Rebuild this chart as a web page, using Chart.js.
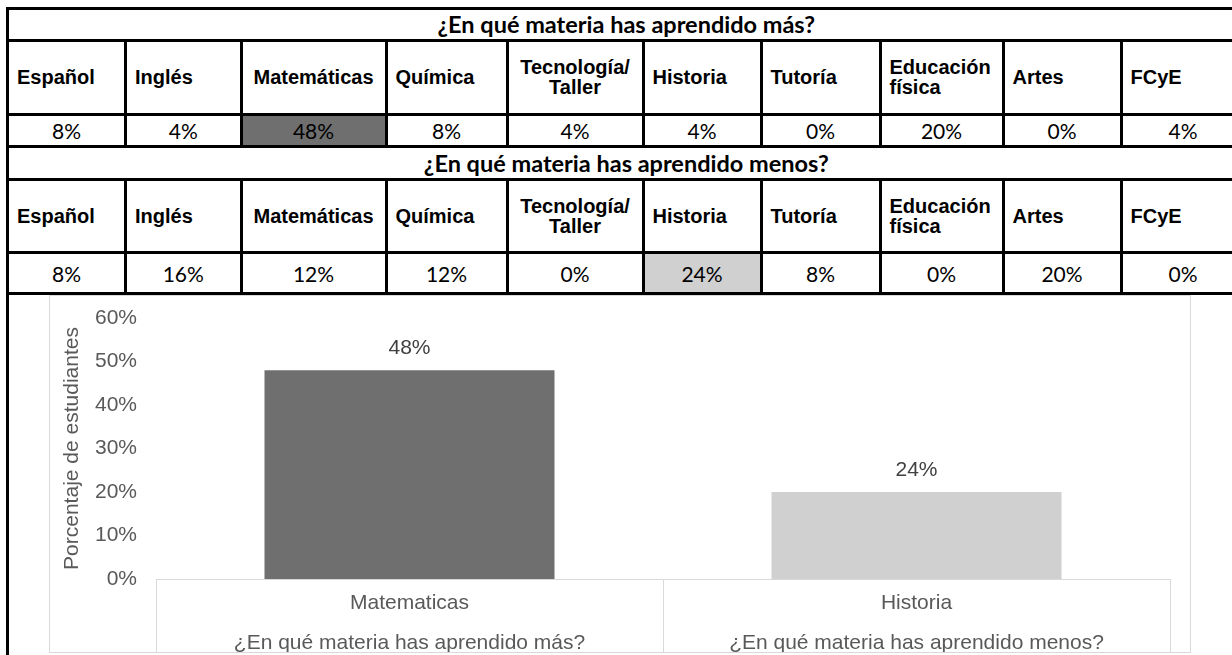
<!DOCTYPE html>
<html lang="es">
<head>
<meta charset="UTF-8">
<title>Materias</title>
<script src="https://cdn.jsdelivr.net/npm/chart.js@4.4.1/dist/chart.umd.min.js"></script>
<style>
    html, body { margin: 0; padding: 0; overflow: hidden; background: #fff; }
    body { width: 1232px; height: 655px; position: relative; }
    #tabla { position: absolute; left: 6px; top: 7px; border-collapse: collapse; table-layout: fixed; }
    #tabla td { border: 3px solid #000; padding: 0; overflow: hidden; color: #000; }
    .titulo { font-family: Lato, sans-serif; font-weight: bold; font-size: 23.5px; text-align: center; }
    .materia { font-family: "Liberation Sans", Arial, sans-serif; font-weight: bold; font-size: 20px; line-height: 20px; text-align: left; padding-left: 8px !important; }
    .centro { text-align: center; padding-left: 0 !important; }
    .valor { font-family: Lato, sans-serif; font-size: 21px; text-align: center; }
    #chartBox { position: absolute; left: 49px; top: 295px; width: 1140px; height: 356px; border: 1px solid #d9d9d9; overflow: hidden; background: #fff; }
    #canvasWrap { position: absolute; left: 0; top: 0; width: 1140px; height: 367px; }
</style>
</head>
<body>
<table id="tabla"><colgroup id="cols"></colgroup><tbody id="cuerpo"></tbody></table>
<div id="chartBox"><div id="canvasWrap"><canvas id="grafica"></canvas></div></div>

<script>
// Datos de la tabla
const materias = ["Español", "Inglés", "Matemáticas", "Química", "Tecnología/<br>Taller", "Historia", "Tutoría", "Educación<br>física", "Artes", "FCyE"];
const aprendidoMas = [8, 4, 48, 8, 4, 4, 0, 20, 0, 4];
const aprendidoMenos = [8, 16, 12, 12, 0, 24, 8, 0, 20, 0];
const preguntaMas = "¿En qué materia has aprendido más?";
const preguntaMenos = "¿En qué materia has aprendido menos?";

// Datos de la grafica
const categorias = [["Matematicas", preguntaMas], ["Historia", preguntaMenos]];
const porcentajes = [48, 20];
const etiquetas = ["48%", "24%"];
const colores = ["#6f6f6f", "#d0d0d0"];

// Medidas de la tabla
const anchos = [118, 115.5, 145, 121, 136, 118, 119, 123, 118, 124];
const centradas = [2, 4];

document.addEventListener("DOMContentLoaded", () => {
    const tabla = document.getElementById("tabla");
    const cols = document.getElementById("cols");
    const cuerpo = document.getElementById("cuerpo");

    tabla.style.width = anchos.reduce((s, w) => s + w, 0) + "px";
    anchos.forEach(w => {
        const col = document.createElement("col");
        col.style.width = w + "px";
        cols.appendChild(col);
    });

    // Bloque de la tabla: titulo, materias y porcentajes
    function agregarBloque(pregunta, valores, resalte, alturas) {
        const maxIdx = valores.indexOf(Math.max(...valores));

        const filaTitulo = document.createElement("tr");
        filaTitulo.style.height = alturas[0] + "px";
        filaTitulo.innerHTML = `<td class="titulo" colspan="10">${pregunta}</td>`;
        cuerpo.appendChild(filaTitulo);

        const filaMaterias = document.createElement("tr");
        filaMaterias.style.height = alturas[1] + "px";
        materias.forEach((m, i) => {
            const td = document.createElement("td");
            td.className = "materia" + (centradas.includes(i) ? " centro" : "");
            td.innerHTML = m;
            filaMaterias.appendChild(td);
        });
        cuerpo.appendChild(filaMaterias);

        const filaValores = document.createElement("tr");
        filaValores.style.height = alturas[2] + "px";
        valores.forEach((v, i) => {
            const td = document.createElement("td");
            td.className = "valor";
            td.textContent = v + "%";
            if (i === maxIdx) td.style.background = resalte;
            filaValores.appendChild(td);
        });
        cuerpo.appendChild(filaValores);
    }

    agregarBloque(preguntaMas, aprendidoMas, colores[0], [31.5, 74.5, 32]);
    agregarBloque(preguntaMenos, aprendidoMenos, colores[1], [32.5, 73.5, 41]);

    const filaGrafica = document.createElement("tr");
    filaGrafica.style.height = "400px";
    filaGrafica.innerHTML = `<td colspan="10"></td>`;
    cuerpo.appendChild(filaGrafica);

    // Etiquetas sobre las barras
    const etiquetasPlugin = {
        id: "etiquetasBarras",
        afterDatasetsDraw(chart) {
            const ctx = chart.ctx;
            const meta = chart.getDatasetMeta(0);
            ctx.save();
            ctx.font = '21px "Liberation Sans", Arial, sans-serif';
            ctx.fillStyle = "#404040";
            ctx.textAlign = "center";
            ctx.textBaseline = "middle";
            meta.data.forEach((bar, i) => {
                ctx.fillText(etiquetas[i], bar.x, bar.y - 22);
            });
            ctx.restore();
        }
    };

    // Chart.js grafica de barras
    new Chart(document.getElementById("grafica").getContext("2d"), {
        type: "bar",
        data: {
            labels: categorias,
            datasets: [{
                label: "Porcentaje",
                data: porcentajes,
                backgroundColor: colores,
                barPercentage: 0.572,
                categoryPercentage: 1
            }]
        },
        options: {
            responsive: true,
            maintainAspectRatio: false,
            animation: false,
            layout: { padding: { left: 10, top: 22, right: 20, bottom: 0 } },
            plugins: {
                legend: { display: false },
                tooltip: { enabled: false }
            },
            scales: {
                x: {
                    afterFit: scale => { scale.height = 84; },
                    grid: {
                        offset: true,
                        drawOnChartArea: false,
                        drawTicks: true,
                        tickLength: 74,
                        color: "#d9d9d9"
                    },
                    border: { color: "#d9d9d9" },
                    ticks: {
                        padding: -70,
                        color: "#595959",
                        maxRotation: 0,
                        autoSkip: false,
                        font: { family: '"Liberation Sans", Arial, sans-serif', size: 21, lineHeight: "40px" }
                    }
                },
                y: {
                    min: 0,
                    max: 60,
                    afterFit: scale => {
                        scale.width = 96;
                        scale.paddingTop = 0;
                        scale.paddingBottom = 0;
                    },
                    grid: { display: false, drawTicks: false },
                    border: { display: false },
                    ticks: {
                        stepSize: 10,
                        padding: 19,
                        color: "#595959",
                        font: { family: '"Liberation Sans", Arial, sans-serif', size: 21 },
                        callback: v => v + "%"
                    },
                    title: {
                        display: true,
                        text: "Porcentaje de estudiantes",
                        color: "#595959",
                        padding: { top: 0, bottom: 9 },
                        font: { family: '"Liberation Sans", Arial, sans-serif', size: 21 }
                    }
                }
            }
        },
        plugins: [etiquetasPlugin]
    });
});
</script>
</body>
</html>
